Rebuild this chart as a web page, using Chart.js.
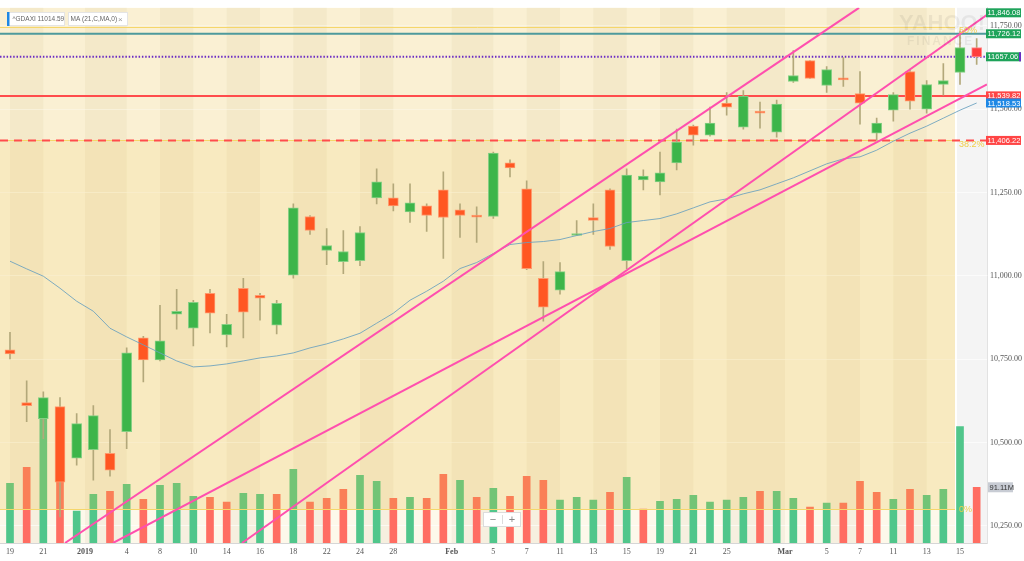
<!DOCTYPE html>
<html>
<head>
<meta charset="utf-8">
<script src="https://cdn.jsdelivr.net/npm/chart.js@4.4.1/dist/chart.umd.min.js"></script>
<style>
  html, body { margin: 0; padding: 0; background: #fff; }
  #wrap { position: relative; width: 1024px; height: 561px; }
</style>
</head>
<body>
<div id="wrap"><canvas id="chart" width="1024" height="561"></canvas></div>
<script>
// trading days shown
const dates = ['2018-12-19','2018-12-20','2018-12-21','2018-12-27','2018-12-28',
  '2019-01-02','2019-01-03','2019-01-04','2019-01-07','2019-01-08','2019-01-09','2019-01-10','2019-01-11',
  '2019-01-14','2019-01-15','2019-01-16','2019-01-17','2019-01-18','2019-01-21','2019-01-22','2019-01-23',
  '2019-01-24','2019-01-25','2019-01-28','2019-01-29','2019-01-30','2019-01-31','2019-02-01','2019-02-04',
  '2019-02-05','2019-02-06','2019-02-07','2019-02-08','2019-02-11','2019-02-12','2019-02-13','2019-02-14',
  '2019-02-15','2019-02-18','2019-02-19','2019-02-20','2019-02-21','2019-02-22','2019-02-25','2019-02-26',
  '2019-02-27','2019-02-28','2019-03-01','2019-03-04','2019-03-05','2019-03-06','2019-03-07','2019-03-08',
  '2019-03-11','2019-03-12','2019-03-13','2019-03-14','2019-03-15','2019-03-18'];

const opens  = [10778,10620,10572,10608,10453,10479,10468,10533,10814,10748,10885,10843,10948,10823,10963,10942,10852,11002,11178,11076,11043,11046,11234,11234,11192,11210,11258,11198,11181,11178,11339,11261,10993,10957,11121,11175,11258,11046,11288,11282,11339,11449,11422,11518,11446,11494,11431,11583,11646,11571,11592,11547,11428,11497,11613,11500,11574,11610,11685];
const highs  = [10831,10685,10652,10635,10587,10611,10539,10784,10819,10912,10960,10927,10960,10885,10993,10948,10927,11216,11181,11142,11136,11148,11321,11276,11276,11216,11312,11216,11207,11371,11348,11285,11043,11040,11166,11216,11261,11321,11318,11371,11440,11452,11506,11550,11556,11521,11527,11676,11646,11628,11655,11613,11473,11550,11619,11586,11637,11735,11712];
const lows   = [10751,10563,10512,10277,10432,10387,10399,10482,10682,10745,10840,10790,10829,10787,10814,10867,10826,10993,11124,11034,11007,11031,11216,11195,11160,11133,11052,11115,11100,11172,11297,11019,10864,10945,11121,11124,11079,11022,11258,11243,11318,11392,11419,11482,11440,11443,11416,11580,11592,11550,11568,11455,11407,11464,11500,11488,11542,11574,11634];
const closes = [10766,10611,10635,10381,10557,10581,10417,10769,10748,10805,10894,10921,10888,10855,10891,10933,10918,11204,11136,11091,11073,11130,11282,11210,11219,11181,11175,11181,11176,11368,11324,11022,10906,11013,11127,11166,11088,11302,11299,11309,11401,11422,11458,11506,11539,11488,11515,11601,11592,11619,11588,11518,11458,11544,11524,11574,11586,11685,11657.06];
// volume, millions
const volumes = [97.6,123.7,219.6,105.8,52.1,79.7,84.6,96.0,71.6,94.4,97.6,76.5,74.8,66.7,81.4,79.7,79.7,120.4,66.7,73.2,87.9,110.6,100.9,73.2,74.8,73.2,112.3,102.5,74.8,89.5,76.5,109.0,102.5,70.0,74.8,70.0,83.0,107.4,55.3,68.3,71.6,78.1,66.7,70.0,74.8,84.6,84.6,73.2,58.6,65.1,65.1,100.9,83.0,71.6,87.9,78.1,87.9,190.4,91.11];
// MA (21, close)
const ma21 = [11044,11021,10999,10963,10924,10894,10843,10817,10793,10769,10745,10727,10730,10736,10745,10754,10760,10769,10784,10796,10811,10828,10858,10888,10927,10954,10984,11022,11040,11067,11094,11100,11103,11109,11121,11133,11142,11160,11166,11172,11186,11204,11222,11231,11246,11258,11276,11294,11315,11336,11351,11357,11377,11404,11428,11449,11473,11497,11518.53];
const legendQuote = 11014.59;

// x axis ticks (month entries sit on the month boundary)
const tickDates = ['2018-12-19','2018-12-21','2019-01','2019-01-04','2019-01-08','2019-01-10','2019-01-14','2019-01-16','2019-01-18','2019-01-22','2019-01-24','2019-01-28','2019-02','2019-02-05','2019-02-07','2019-02-11','2019-02-13','2019-02-15','2019-02-19','2019-02-21','2019-02-25','2019-03','2019-03-05','2019-03-07','2019-03-11','2019-03-13','2019-03-15'];
const tickLabels = ['19','21','2019','4','8','10','14','16','18','22','24','28','Feb','5','7','11','13','15','19','21','25','Mar','5','7','11','13','15'];
const priceTicks = [10250, 10500, 10750, 11000, 11250, 11500, 11750];

// drawn objects: trend lines (day index, price), horizontal levels, fibonacci
const trendStartIdx   = [3.30, 6.18, 13.92];
const trendStartPrice = [10199, 10199, 10199];
const trendEndIdx     = [50.94, 58.62, 58.62];
const trendEndPrice   = [11804, 11574, 11783];
const levelPrices = [11846.08, 11726.12, 11539.82, 11406.22];
const fibZero = 10300.4, fibFull = 13195.2, fibEndIdx = 56.7;
const fibLevels = [0, 0.382, 0.5];

const last = dates.length - 1;
const tickPos = tickDates.map(d => d.length === 7
  ? dates.findIndex(t => t.startsWith(d)) - 0.5
  : dates.indexOf(d));
const isUp = closes.map((c, i) => c >= opens[i]);
const volUp = closes.map((c, i) => i === 0 || c >= closes[i - 1]);
const fibPrice = f => fibZero + f * (fibFull - fibZero);
const fmt = v => v.toLocaleString('en-US', { minimumFractionDigits: 2, maximumFractionDigits: 2 });

const decor = {
  id: 'decor',
  beforeDraw(chart) {
    const { ctx, chartArea: a, scales: { x } } = chart;
    const fx = x.getPixelForValue(fibEndIdx);
    ctx.save();
    ctx.fillStyle = '#fdf8ea';
    ctx.fillRect(a.left, a.top, fx - a.left, a.bottom - a.top);
    ctx.fillStyle = '#f4f4f4';
    ctx.fillRect(fx + 2, a.top, a.right - fx - 2, a.bottom - a.top);
    // alternate shading between ticks
    ctx.fillStyle = 'rgba(130,105,50,0.06)';
    for (let k = 0; k < tickPos.length - 1; k += 2) {
      const x0 = x.getPixelForValue(tickPos[k]);
      const x1 = Math.min(x.getPixelForValue(tickPos[k + 1]), fx);
      if (x1 > x0) ctx.fillRect(x0, a.top, x1 - x0, a.bottom - a.top);
    }
    ctx.restore();
  },
  afterDatasetDraw(chart, args) {
    if (args.index !== 0) return;
    const { ctx, chartArea: a, scales: { x, y } } = chart;
    const fx = x.getPixelForValue(fibEndIdx);
    const y0 = y.getPixelForValue(fibPrice(fibLevels[0]));
    const y1 = y.getPixelForValue(fibPrice(fibLevels[1]));
    ctx.save();
    ctx.beginPath();
    ctx.rect(a.left, a.top, a.right - a.left, a.bottom - a.top);
    ctx.clip();
    ctx.fillStyle = 'rgba(232,190,50,0.23)';
    ctx.fillRect(a.left, y1, fx - a.left, y0 - y1);
    ctx.fillStyle = 'rgba(232,190,50,0.12)';
    ctx.fillRect(a.left, a.top, fx - a.left, y1 - a.top);
    ctx.strokeStyle = '#f5d66a';
    ctx.lineWidth = 1;
    fibLevels.forEach(f => {
      const yy = Math.round(y.getPixelForValue(fibPrice(f))) + 0.5;
      ctx.beginPath(); ctx.moveTo(a.left, yy); ctx.lineTo(fx, yy); ctx.stroke();
    });
    // horizontal levels
    const styles = [
      { c: '#1ea35a', w: 2, d: [] },
      { c: '#4e9a9c', w: 2, d: [] },
      { c: '#ff4c4c', w: 2, d: [] },
      { c: '#ff4c4c', w: 2, d: [8, 6] }
    ];
    levelPrices.forEach((p, i) => {
      const yy = y.getPixelForValue(p);
      if (yy < a.top || yy > a.bottom) return;
      ctx.strokeStyle = styles[i].c; ctx.lineWidth = styles[i].w; ctx.setLineDash(styles[i].d);
      ctx.beginPath(); ctx.moveTo(a.left, yy); ctx.lineTo(a.right, yy); ctx.stroke();
    });
    const yc = y.getPixelForValue(closes[last]);
    ctx.strokeStyle = '#6a2bc4'; ctx.lineWidth = 2; ctx.setLineDash([1.5, 1.8]);
    ctx.beginPath(); ctx.moveTo(a.left, yc); ctx.lineTo(a.right, yc); ctx.stroke();
    ctx.restore();
  },
  afterDraw(chart) {
    const { ctx, chartArea: a, scales: { x, y, yv } } = chart;
    const fx = x.getPixelForValue(fibEndIdx);
    ctx.save();
    // watermark
    ctx.fillStyle = 'rgba(0,0,0,0.06)';
    ctx.textBaseline = 'middle';
    ctx.textAlign = 'left';
    ctx.font = 'bold 22px "Liberation Sans"';
    ctx.fillText('YAHOO!', 899, 24);
    ctx.font = 'bold 12px "Liberation Sans"';
    ctx.letterSpacing = '2px';
    ctx.fillText('FINANCE', 907, 42);
    ctx.letterSpacing = '0px';
    // fib labels
    ctx.fillStyle = '#f0cf4a';
    ctx.font = '9px "Liberation Sans"';
    fibLevels.forEach(f => {
      const yy = y.getPixelForValue(fibPrice(f));
      const t = (f * 100).toFixed(f * 1000 % 10 ? 1 : 0) + '%';
      ctx.fillText(t, fx + 4, yy + (f === 0 ? 0 : 4));
    });
    // right-hand price tags
    const tag = (text, yc, bg, fg) => {
      ctx.fillStyle = bg;
      ctx.fillRect(a.right - 1, yc - 4.5, 35, 9);
      ctx.fillStyle = fg;
      ctx.font = '7.5px "Liberation Sans"';
      ctx.fillText(text, a.right + 0.5, yc + 0.5);
    };
    const tagColors = ['#1ea35a', '#1ea35a', '#ff4545', '#ff4545'];
    const yTop = Math.max(y.getPixelForValue(levelPrices[0]), a.top + 5);
    tag(fmt(levelPrices[0]), yTop, tagColors[0], '#fff');
    tag(fmt(levelPrices[1]), y.getPixelForValue(levelPrices[1]), tagColors[1], '#fff');
    const yc = y.getPixelForValue(closes[last]);
    tag(closes[last].toFixed(2), yc, '#1ea35a', '#fff');
    ctx.fillStyle = '#6a2bc4';
    ctx.fillRect(a.right + 32, yc - 4.5, 2, 9);
    tag(fmt(levelPrices[2]), y.getPixelForValue(levelPrices[2]), tagColors[2], '#fff');
    tag(fmt(ma21[last]), y.getPixelForValue(ma21[last]), '#1e88e5', '#fff');
    tag(fmt(levelPrices[3]), y.getPixelForValue(levelPrices[3]), tagColors[3], '#fff');
    const yvPix = yv.getPixelForValue(volumes[last]);
    ctx.fillStyle = '#c8ccd4';
    ctx.fillRect(a.right + 1, yvPix - 5, 25, 10);
    ctx.fillStyle = '#333';
    ctx.font = '7.5px "Liberation Sans"';
    ctx.fillText(volumes[last].toFixed(2) + 'M', a.right + 2.5, yvPix + 0.5);
    // legend chips
    ctx.fillStyle = '#fff';
    ctx.strokeStyle = '#e4e4e4';
    ctx.lineWidth = 1;
    ctx.fillRect(7, 12, 58, 14); ctx.strokeRect(7.5, 12.5, 57, 13);
    ctx.fillRect(68, 12, 60, 14); ctx.strokeRect(68.5, 12.5, 59, 13);
    ctx.fillStyle = '#1e88e5';
    ctx.fillRect(7, 12, 2.5, 14);
    ctx.font = '6.5px "Liberation Sans"';
    ctx.fillStyle = '#666';
    ctx.fillText('^GDAXI ' + legendQuote.toFixed(2), 12.5, 19.5);
    ctx.fillText('MA (21,C,MA,0)', 70.5, 19.5);
    ctx.fillStyle = '#999';
    ctx.font = '8px "Liberation Sans"';
    ctx.fillText('\u00d7', 118, 19.5);
    // zoom control
    ctx.fillStyle = '#fff';
    ctx.strokeStyle = '#dcdcdc';
    ctx.fillRect(483, 512, 38, 15); ctx.strokeRect(483.5, 512.5, 37, 14);
    ctx.beginPath(); ctx.moveTo(502.5, 515); ctx.lineTo(502.5, 524); ctx.stroke();
    ctx.fillStyle = '#888';
    ctx.font = '11px "Liberation Sans"';
    ctx.textAlign = 'center';
    ctx.fillText('\u2212', 493, 519.5);
    ctx.fillText('+', 512, 519.5);
    ctx.restore();
  }
};

const trendSets = trendStartIdx.map((s, i) => ({
  type: 'line',
  label: 'Trend ' + (i + 1),
  yAxisID: 'y',
  data: [{ x: s, y: trendStartPrice[i] }, { x: trendEndIdx[i], y: trendEndPrice[i] }],
  borderColor: '#ff4fae',
  borderWidth: 2,
  pointRadius: 0,
  order: 1
}));

new Chart(document.getElementById('chart'), {
  type: 'bar',
  data: {
    datasets: [
      {
        type: 'bar',
        label: 'Volume',
        yAxisID: 'yv',
        data: volumes.map((v, i) => ({ x: i, y: v })),
        backgroundColor: volUp.map(u => u ? '#50c68b' : '#ff6d62'),
        barThickness: 7,
        grouped: false,
        order: 5
      },
      {
        type: 'bar',
        label: 'Range',
        yAxisID: 'y',
        data: highs.map((h, i) => ({ x: i, y: [lows[i], h] })),
        backgroundColor: '#b3a87a',
        barThickness: 1,
        grouped: false,
        order: 4
      },
      {
        type: 'bar',
        label: '^GDAXI',
        yAxisID: 'y',
        data: opens.map((o, i) => ({ x: i, y: [o, closes[i]] })),
        backgroundColor: isUp.map((u, i) => u ? '#3db54a' : (i === last ? '#ff3d3d' : '#ff5722')),
        borderColor: isUp.map((u, i) => u ? '#86cf84' : (i === last ? '#ff8a8a' : '#ff9a6e')),
        borderWidth: 1,
        borderSkipped: false,
        barThickness: 10,
        minBarLength: 2,
        grouped: false,
        order: 3
      },
      {
        type: 'line',
        label: 'MA (21,C,MA,0)',
        yAxisID: 'y',
        data: ma21.map((v, i) => ({ x: i, y: v })),
        borderColor: 'rgba(105,160,190,0.85)',
        borderWidth: 1,
        pointRadius: 0,
        order: 2
      },
      ...trendSets
    ]
  },
  options: {
    responsive: false,
    animation: false,
    layout: { padding: { top: 5, left: 0, right: 0, bottom: 0 } },
    plugins: { legend: { display: false }, tooltip: { enabled: false } },
    scales: {
      x: {
        type: 'linear',
        min: -0.6,
        max: 58.62,
        offset: false,
        grid: { display: false, drawTicks: false },
        border: { display: true, color: '#d6d6d6' },
        ticks: {
          autoSkip: false,
          maxRotation: 0,
          padding: 4,
          color: '#555',
          font: ctx => ({
            family: 'Liberation Serif',
            size: 8,
            weight: tickDates[ctx.index] && tickDates[ctx.index].length === 7 ? 'bold' : 'normal'
          }),
          callback: (v, i) => tickLabels[i]
        },
        afterBuildTicks: s => { s.ticks = tickPos.map(v => ({ value: v })); },
        afterFit: s => { s.height = 18; }
      },
      y: {
        position: 'right',
        min: 10198.9,
        max: 11804,
        grid: { color: 'rgba(255,255,255,0.6)', drawTicks: false },
        border: { display: true, color: '#e2e2e2' },
        ticks: {
          padding: 3,
          color: '#555',
          font: { family: 'Liberation Serif', size: 8 },
          callback: v => fmt(v)
        },
        afterBuildTicks: s => { s.ticks = priceTicks.map(v => ({ value: v })); },
        afterFit: s => { s.width = 37; }
      },
      yv: { display: false, min: 0, max: 875 }
    }
  },
  plugins: [decor]
});
</script>
</body>
</html>
